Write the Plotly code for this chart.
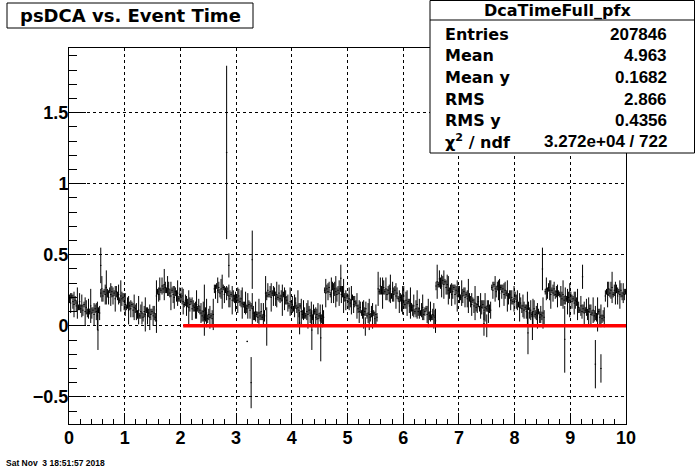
import plotly.graph_objects as go

# ---------------- data ----------------
x_min, x_max = 0.0, 10.0
y_min, y_max = -0.691, 1.955
bin_width = 0.02

profile_mean = [
    # 0.00 - 0.56
    0.19, 0.16, 0.21, 0.17, 0.15, 0.18, 0.14, 0.16, 0.13, 0.17, 0.12, 0.14, 0.11, 0.15, 0.10, 0.13, 0.09, 0.12, 0.10, 0.14,
    0.09, 0.11, 0.08, 0.12, 0.10, 0.07, 0.11, 0.09,
    # 0.56 - 1.00
    0.23, 0.26, 0.21, 0.24, 0.22, 0.27, 0.23, 0.20, 0.25, 0.22, 0.24, 0.21, 0.23, 0.19, 0.24, 0.21, 0.22, 0.18, 0.21, 0.19,
    0.20, 0.17,
    # 1.00 - 1.56
    0.15, 0.13, 0.16, 0.11, 0.14, 0.12, 0.15, 0.11, 0.13, 0.12,
    0.10, 0.08, 0.11, 0.07, 0.10, 0.09, 0.06, 0.10, 0.08, 0.11, 0.07, 0.09, 0.06, 0.08, 0.10, 0.07, 0.09, 0.06,
    # 1.56 - 2.60
    0.21, 0.24, 0.22, 0.26, 0.25, 0.28, 0.26, 0.29, 0.27, 0.25, 0.28, 0.26,
    0.23, 0.21, 0.25, 0.22, 0.20, 0.24, 0.21, 0.23, 0.19, 0.22, 0.20, 0.21,
    0.17, 0.15, 0.18, 0.14, 0.16, 0.13, 0.15, 0.17, 0.12, 0.14, 0.13, 0.11, 0.15, 0.12, 0.14, 0.11,
    0.09, 0.07, 0.10, 0.06, 0.08, 0.09, 0.05, 0.08, 0.06, 0.07, 0.05, 0.08,
    # 2.60 - 3.52
    0.26, 0.24, 0.28, 0.25, 0.27, 0.23, 0.26, 0.24, 0.27, 0.22, 0.25, 0.23, 0.24,
    0.21, 0.19, 0.22, 0.18, 0.21, 0.19, 0.17, 0.20, 0.18, 0.21, 0.17, 0.19, 0.16,
    0.15, 0.13, 0.16, 0.12, 0.14, 0.15, 0.11, 0.14, 0.12,
    0.09, 0.07, 0.10, 0.08, 0.06, 0.09, 0.07, 0.10, 0.06, 0.08, 0.07,
    # 3.52 - 4.58
    0.23, 0.21, 0.25, 0.22, 0.24, 0.20, 0.23, 0.21, 0.24, 0.19, 0.22, 0.20, 0.23, 0.19, 0.21, 0.18, 0.22, 0.19, 0.20, 0.18,
    0.16, 0.14, 0.17, 0.13, 0.15, 0.12, 0.14, 0.16, 0.12, 0.13, 0.11, 0.14,
    0.10, 0.08, 0.11, 0.09, 0.07, 0.10, 0.08, 0.11, 0.07, 0.09, 0.06, 0.08, 0.10, 0.06, 0.08, 0.05, 0.07, 0.09, 0.05, 0.07,
    0.06,
    # 4.58 - 5.54
    0.25, 0.23, 0.26, 0.24, 0.27, 0.22, 0.25, 0.28, 0.23, 0.26, 0.24, 0.22, 0.25, 0.23, 0.26, 0.22, 0.24, 0.21,
    0.20, 0.18, 0.21, 0.17, 0.19, 0.16, 0.18, 0.20, 0.15, 0.17, 0.16, 0.14,
    0.12, 0.10, 0.13, 0.09, 0.11, 0.08, 0.10, 0.12, 0.07, 0.09, 0.08, 0.06, 0.10, 0.07, 0.09, 0.05, 0.08, 0.06,
    # 5.54 - 6.58
    0.26, 0.24, 0.28, 0.25, 0.23, 0.27, 0.24, 0.26, 0.22, 0.25, 0.23, 0.26, 0.21, 0.24, 0.22, 0.25, 0.21, 0.23,
    0.19, 0.17, 0.20, 0.16, 0.18, 0.21, 0.15, 0.18, 0.16, 0.17, 0.14, 0.16,
    0.13, 0.11, 0.14, 0.10, 0.12, 0.15, 0.10, 0.12, 0.09, 0.11, 0.13, 0.08, 0.10, 0.12, 0.08, 0.09, 0.07, 0.10, 0.06, 0.08,
    0.07, 0.06,
    # 6.58 - 7.58
    0.28, 0.31, 0.29, 0.33, 0.30, 0.28, 0.32, 0.29, 0.31, 0.27, 0.29,
    0.25, 0.23, 0.26, 0.22, 0.24, 0.27, 0.22, 0.25, 0.21, 0.24, 0.22, 0.20, 0.23, 0.21, 0.24, 0.20, 0.22, 0.19, 0.21, 0.20,
    0.17, 0.15, 0.18, 0.14, 0.16, 0.13, 0.15, 0.17, 0.12, 0.14, 0.13, 0.15, 0.11, 0.13, 0.12, 0.14, 0.10, 0.12, 0.11,
    # 7.58 - 8.54
    0.27, 0.25, 0.29, 0.26, 0.24, 0.28, 0.25, 0.23, 0.27, 0.24, 0.26, 0.22, 0.25, 0.23,
    0.21, 0.19, 0.22, 0.18, 0.20, 0.17, 0.19, 0.21, 0.17, 0.18,
    0.15, 0.13, 0.16, 0.12, 0.14, 0.11, 0.13, 0.10, 0.12, 0.14, 0.09, 0.11, 0.08, 0.10, 0.12, 0.08, 0.09, 0.07, 0.10, 0.06,
    0.08, 0.07, 0.09, 0.06,
    # 8.54 - 9.62
    0.24, 0.26, 0.23, 0.27, 0.25, 0.22, 0.25, 0.23, 0.26, 0.22, 0.24, 0.21, 0.23, 0.22,
    0.21, 0.19, 0.22, 0.18, 0.21, 0.19, 0.17, 0.20, 0.18, 0.21, 0.17, 0.19, 0.16, 0.18, 0.17, 0.15,
    0.13, 0.11, 0.14, 0.10, 0.12, 0.09, 0.11, 0.13, 0.08, 0.10, 0.12, 0.08, 0.09, 0.11, 0.07, 0.09, 0.06, 0.08, 0.10, 0.06,
    0.07, 0.05, 0.07, 0.06,
    # 9.62 - 10.0
    0.21, 0.24, 0.22, 0.26, 0.23, 0.25, 0.27, 0.22, 0.25, 0.23, 0.26, 0.21, 0.24, 0.22, 0.25, 0.21, 0.23, 0.22, 0.24,
]

profile_err = [
    0.03, 0.07, 0.02, 0.05, 0.09, 0.03, 0.04, 0.11, 0.02, 0.06, 0.03, 0.08, 0.04, 0.02, 0.10, 0.05, 0.03, 0.07, 0.02, 0.12,
    0.04, 0.02, 0.08, 0.03, 0.06, 0.10, 0.02, 0.05, 0.03, 0.09, 0.04, 0.02, 0.07, 0.12, 0.03, 0.05, 0.02, 0.08, 0.04, 0.06,
    0.02, 0.09, 0.04, 0.03, 0.07, 0.02, 0.11, 0.05, 0.03, 0.06, 0.08, 0.02, 0.04, 0.10, 0.03, 0.06, 0.02, 0.05, 0.09, 0.03,
    0.06, 0.03, 0.10, 0.02, 0.05, 0.08, 0.03, 0.04, 0.12, 0.02, 0.06, 0.03, 0.09, 0.04, 0.02, 0.07, 0.05, 0.03, 0.11, 0.02,
    0.05, 0.08, 0.02, 0.06, 0.03, 0.11, 0.04, 0.02, 0.07, 0.05, 0.03, 0.10, 0.02, 0.06, 0.08, 0.03, 0.04, 0.09, 0.02, 0.05,
    0.03, 0.06, 0.09, 0.02, 0.04, 0.07, 0.03, 0.12, 0.05, 0.02, 0.08, 0.04, 0.03, 0.06, 0.10, 0.02, 0.05, 0.03, 0.07, 0.04,
    0.07, 0.02, 0.05, 0.10, 0.03, 0.04, 0.08, 0.02, 0.06, 0.11, 0.03, 0.05, 0.02, 0.09, 0.04, 0.03, 0.07, 0.12, 0.02, 0.06,
    0.02, 0.05, 0.03, 0.08, 0.06, 0.02, 0.10, 0.04, 0.03, 0.07, 0.02, 0.09, 0.05, 0.03, 0.06, 0.11, 0.02, 0.04, 0.08, 0.03,
    0.09, 0.03, 0.06, 0.02, 0.11, 0.05, 0.03, 0.07, 0.02, 0.04, 0.10, 0.03, 0.06, 0.02, 0.08, 0.04, 0.12, 0.03, 0.05, 0.02,
    0.04, 0.10, 0.02, 0.07, 0.03, 0.05, 0.09, 0.02, 0.06, 0.03, 0.04, 0.11, 0.02, 0.08, 0.05, 0.03, 0.06, 0.02, 0.10, 0.04,
    0.06, 0.02, 0.08, 0.04, 0.03, 0.12, 0.05, 0.02, 0.09, 0.03, 0.07, 0.04, 0.02, 0.06, 0.10, 0.03, 0.05, 0.08, 0.02, 0.07,
    0.02, 0.07, 0.04, 0.11, 0.02, 0.06, 0.03, 0.08, 0.05, 0.02, 0.10, 0.03, 0.06, 0.04, 0.02, 0.09, 0.03, 0.07, 0.05, 0.11,
    0.05, 0.03, 0.09, 0.02, 0.06, 0.04, 0.12, 0.03, 0.07, 0.02, 0.05, 0.08, 0.03, 0.10, 0.02, 0.06, 0.04, 0.02, 0.09, 0.03,
    0.08, 0.04, 0.02, 0.06, 0.10, 0.03, 0.05, 0.02, 0.07, 0.11, 0.03, 0.04, 0.09, 0.02, 0.05, 0.07, 0.03, 0.12, 0.02, 0.06,
    0.03, 0.11, 0.05, 0.02, 0.08, 0.04, 0.03, 0.06, 0.10, 0.02, 0.07, 0.05, 0.03, 0.09, 0.04, 0.02, 0.08, 0.03, 0.06, 0.10,
    0.07, 0.03, 0.06, 0.09, 0.02, 0.05, 0.11, 0.03, 0.04, 0.08, 0.02, 0.06, 0.10, 0.03, 0.07, 0.02, 0.05, 0.09, 0.04, 0.03,
    0.02, 0.06, 0.10, 0.03, 0.07, 0.02, 0.04, 0.09, 0.05, 0.03, 0.12, 0.02, 0.06, 0.04, 0.08, 0.03, 0.10, 0.02, 0.05, 0.07,
    0.10, 0.04, 0.03, 0.08, 0.05, 0.02, 0.07, 0.03, 0.11, 0.04, 0.06, 0.02, 0.09, 0.05, 0.03, 0.07, 0.02, 0.06, 0.12, 0.03,
    0.04, 0.08, 0.02, 0.05, 0.12, 0.03, 0.06, 0.04, 0.02, 0.09, 0.05, 0.03, 0.07, 0.10, 0.02, 0.04, 0.08, 0.03, 0.06, 0.02,
    0.06, 0.02, 0.09, 0.04, 0.03, 0.07, 0.10, 0.02, 0.05, 0.03, 0.08, 0.06, 0.02, 0.11, 0.04, 0.03, 0.07, 0.05, 0.02, 0.09,
    0.03, 0.05, 0.07, 0.02, 0.10, 0.04, 0.03, 0.08, 0.06, 0.02, 0.05, 0.12, 0.03, 0.04, 0.07, 0.02, 0.09, 0.06, 0.03, 0.05,
    0.09, 0.02, 0.04, 0.06, 0.03, 0.11, 0.05, 0.02, 0.08, 0.04, 0.03, 0.07, 0.10, 0.02, 0.06, 0.05, 0.03, 0.04, 0.08, 0.02,
    0.02, 0.07, 0.05, 0.10, 0.03, 0.06, 0.02, 0.09, 0.04, 0.12, 0.03, 0.05, 0.02, 0.08, 0.06, 0.03, 0.11, 0.04, 0.02, 0.07,
    0.05, 0.03, 0.08, 0.02, 0.06, 0.04, 0.10, 0.03, 0.07, 0.02, 0.09, 0.04, 0.05, 0.03, 0.12, 0.02, 0.06, 0.08, 0.03, 0.04,
    0.07, 0.04, 0.02, 0.09, 0.05, 0.03, 0.06, 0.11, 0.02, 0.04, 0.08, 0.03, 0.06, 0.02, 0.10, 0.05, 0.03, 0.07, 0.04, 0.02,
]

# isolated bins with long error bars (outliers)
spike_x = [0.52, 0.57, 1.57, 2.43, 2.83, 2.87, 3.20, 3.27, 3.29, 3.55, 4.14, 4.36,
           4.52, 4.88, 5.32, 6.58, 7.45, 7.50, 8.24, 8.32, 8.50, 8.90, 9.22, 9.45, 9.55]
spike_y = [-0.03, 0.425, 0.035, 0.11, 1.22, 0.425, -0.11, -0.40, 0.465, -0.005, 0.02, -0.03,
           -0.085, 0.335, -0.005, 0.035, 0.015, 0.0, -0.05, 0.0, 0.40, -0.095, 0.345, -0.27, -0.30]
spike_err = [0.14, 0.125, 0.085, 0.18, 0.61, 0.085, 0.005, 0.18, 0.205, 0.135, 0.08, 0.14,
             0.165, 0.095, 0.065, 0.085, 0.085, 0.08, 0.15, 0.10, 0.15, 0.235, 0.085, 0.17, 0.10]

fit_x = [2.05, 10.0]
fit_value = 0.0

title_text = "psDCA vs. Event Time"
stats_name = "DcaTimeFull_pfx"
stats_labels = ["Entries", "Mean", "Mean y", "RMS", "RMS y", "χ<sup>2</sup> / ndf"]
stats_values = ["207846", "4.963", "0.1682", "2.866", "0.4356", "3.272e+04 / 722"]
date_text = "Sat Nov\u00a0\u00a03 18:51:57 2018"

# ---------------- layout geometry ----------------
W, H = 696, 472
L, R, T, B = 69, 70, 48, 48
PW, PH = W - L - R, H - T - B


def px(x):
    return (x - L) / PW


def py(y):
    return (H - B - y) / PH


bin_centers = [x_min + bin_width * (i + 0.5) for i in range(len(profile_mean))]

FONT = "Liberation Sans, Arial, Helvetica, sans-serif"
WIDE = "DejaVu Sans, Liberation Sans, sans-serif"

fig = go.Figure()

for xs, ys, es in [(bin_centers, profile_mean, profile_err), (spike_x, spike_y, spike_err)]:
    fig.add_trace(go.Scatter(
        x=xs, y=ys, mode="markers",
        marker=dict(symbol="line-ew", size=1, color="black", line=dict(color="black", width=1)),
        error_y=dict(type="data", array=es, visible=True, color="black", thickness=1, width=0),
        hoverinfo="skip", showlegend=False,
    ))

fig.add_trace(go.Scatter(
    x=fit_x, y=[fit_value, fit_value], mode="lines",
    line=dict(color="#ff0000", width=3.5),
    hoverinfo="skip", showlegend=False,
))

axis_common = dict(
    showline=True, linecolor="black", linewidth=1, mirror=True,
    ticks="inside", tickcolor="black", tickwidth=1,
    showgrid=True, gridcolor="black", gridwidth=1, griddash="dot",
    zeroline=False,
    tickfont=dict(family=FONT, size=18, color="black", weight="bold"),
)

fig.update_layout(
    width=W, height=H,
    margin=dict(l=L, r=R, t=T, b=B, pad=0),
    paper_bgcolor="white", plot_bgcolor="white",
    showlegend=False,
    xaxis=dict(range=[x_min, x_max], dtick=1, tick0=0, ticklen=11,
               minor=dict(ticks="inside", ticklen=5, dtick=0.2, tickcolor="black", showgrid=False),
               ticklabelstandoff=-3,
               **axis_common),
    yaxis=dict(range=[y_min, y_max], dtick=0.5, tick0=0, ticklen=17,
               minor=dict(ticks="inside", ticklen=8, dtick=0.1, tickcolor="black", showgrid=False),
               ticklabelstandoff=-4,
               **axis_common),
)

shapes = [
    # title box
    dict(type="rect", xref="paper", yref="paper", x0=px(7), x1=px(253), y0=py(28), y1=py(3),
         line=dict(color="black", width=1), fillcolor="white"),
    # stats box
    dict(type="rect", xref="paper", yref="paper", x0=px(430), x1=px(694.5), y0=py(153), y1=py(0.5),
         line=dict(color="black", width=1), fillcolor="white"),
    dict(type="line", xref="paper", yref="paper", x0=px(430), x1=px(694.5), y0=py(20), y1=py(20),
         line=dict(color="black", width=1)),
]
fig.update_layout(shapes=shapes)

ann = []
ann.append(dict(text=title_text, xref="paper", yref="paper", x=px(130), y=py(15.5),
                xanchor="center", yanchor="middle", showarrow=False,
                font=dict(family=WIDE, size=18, color="black", weight="bold")))
ann.append(dict(text=stats_name, xref="paper", yref="paper", x=px(557), y=py(10.5),
                xanchor="center", yanchor="middle", showarrow=False,
                font=dict(family=WIDE, size=16, color="black", weight="bold")))
row_y = [34, 55.5, 77, 99.5, 120, 141]
for lab, val, yy in zip(stats_labels, stats_values, row_y):
    ann.append(dict(text=lab, xref="paper", yref="paper", x=px(443), y=py(yy),
                    xanchor="left", yanchor="middle", showarrow=False,
                    font=dict(family=WIDE, size=16, color="black", weight="bold")))
    ann.append(dict(text=val, xref="paper", yref="paper", x=px(669), y=py(yy),
                    xanchor="right", yanchor="middle", showarrow=False,
                    font=dict(family=FONT, size=17, color="black", weight="bold")))
ann.append(dict(text=date_text, xref="paper", yref="paper", x=px(4), y=py(463),
                xanchor="left", yanchor="middle", showarrow=False,
                font=dict(family=FONT, size=8.5, color="black", weight="bold")))
fig.update_layout(annotations=ann)

fig.write_html("out.html", config=dict(displayModeBar=False),
               post_script="document.body.style.margin='0';document.body.style.padding='0';")
